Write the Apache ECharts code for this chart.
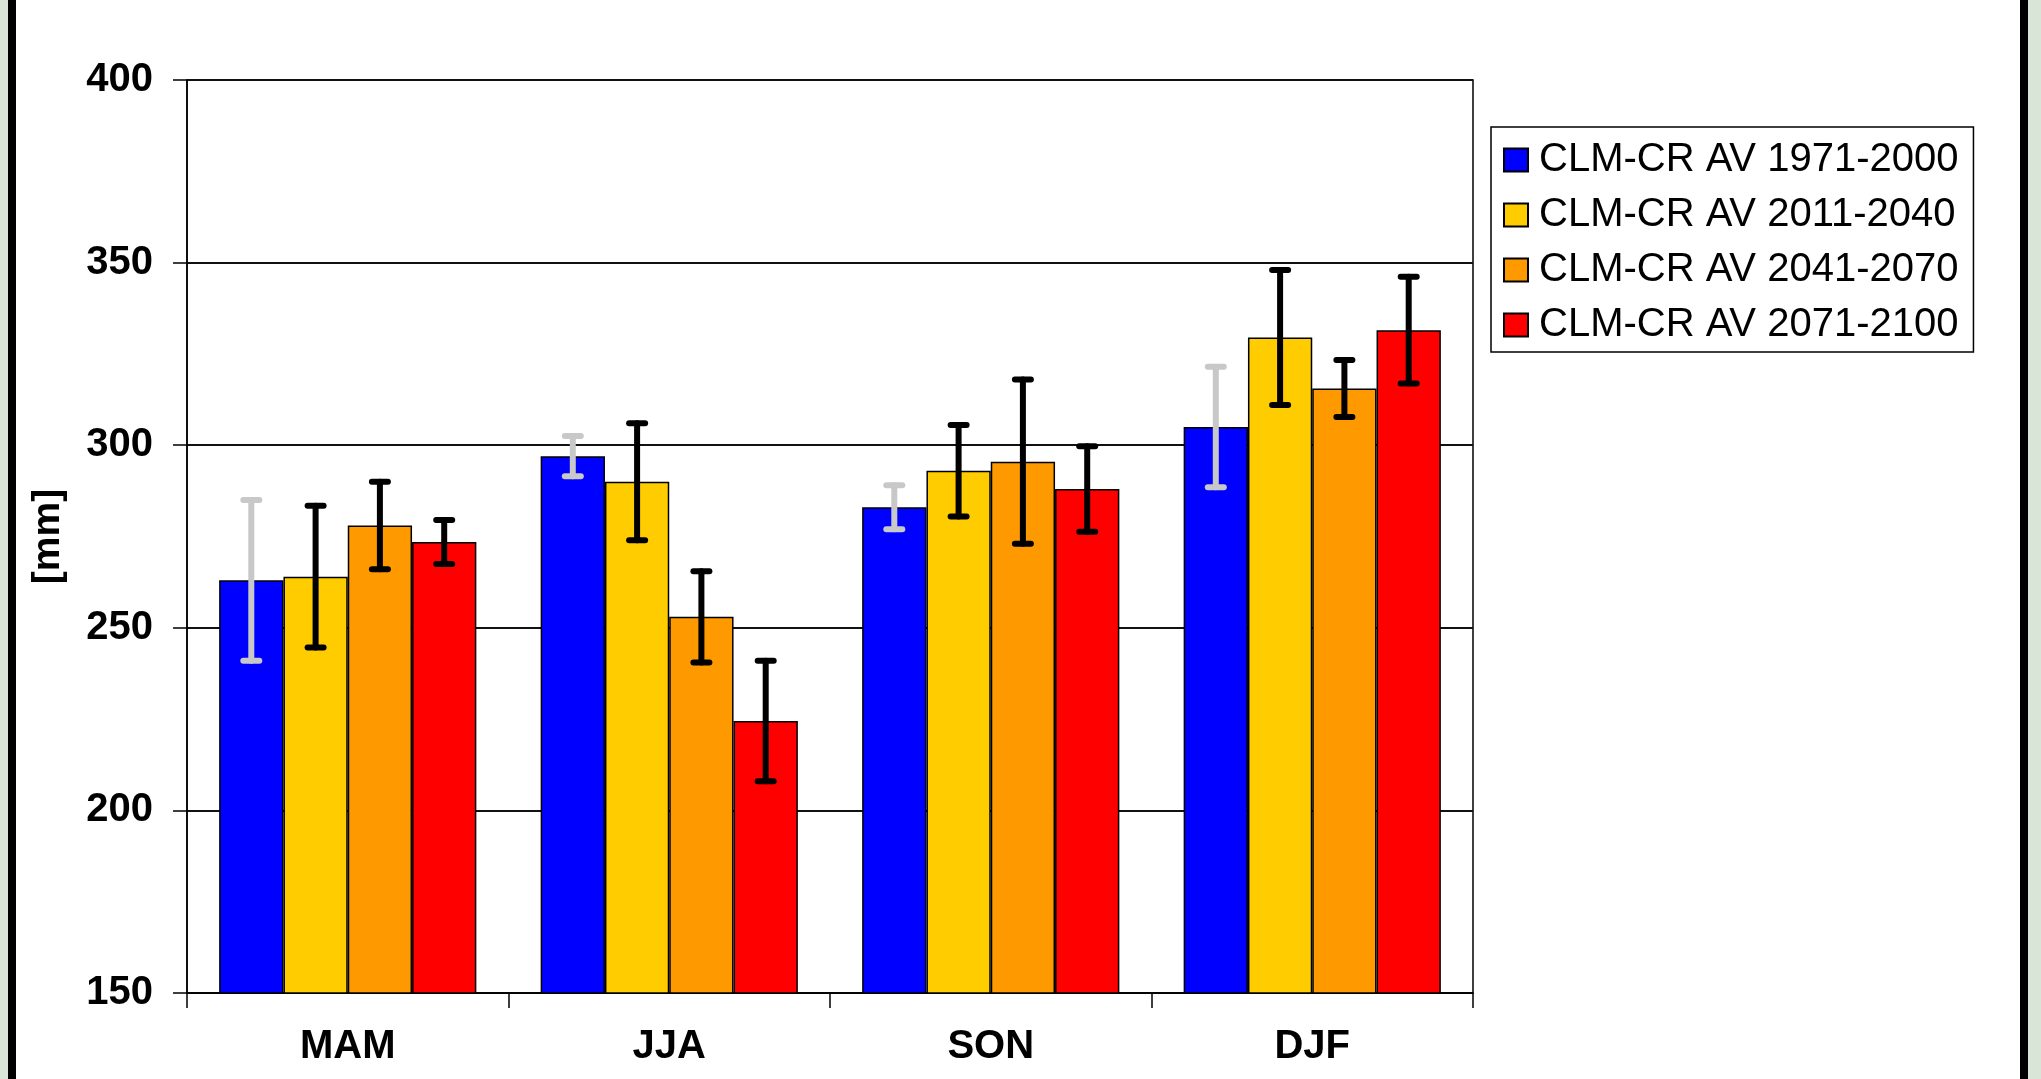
<!DOCTYPE html>
<html>
<head>
<meta charset="utf-8">
<script src="https://cdn.jsdelivr.net/npm/echarts@6/dist/echarts.min.js"></script>
<style>
html,body{margin:0;padding:0;background:#fff;}
#c{width:2041px;height:1079px;}
</style>
</head>
<body>
<div id="c"></div>
<script>
const categories = ['MAM', 'JJA', 'SON', 'DJF'];
const seriesNames = ['CLM-CR AV 1971-2000', 'CLM-CR AV 2011-2040', 'CLM-CR AV 2041-2070', 'CLM-CR AV 2071-2100'];
const v1971 = [263, 297, 283, 305];
const e1971 = [22, 5.5, 6, 16.5];
const v2011 = [264, 290, 293, 329.5];
const e2011 = [19.4, 16, 12.5, 18.5];
const v2041 = [278, 253, 295.5, 315.5];
const e2041 = [12, 12.5, 22.5, 7.8];
const v2071 = [273.5, 224.5, 288, 331.5];
const e2071 = [6, 16.5, 11.7, 14.6];
const yTicks = [150, 200, 250, 300, 350, 400];

const values = [v1971, v2011, v2041, v2071];
const errors = [e1971, e2011, e2041, e2071];
const colors = ['#0000ff', '#ffcc00', '#ff9900', '#ff0000'];
const errColors = ['#c8c8c8', '#000000', '#000000', '#000000'];
const barShare = 0.2; // 4 bars, 20% category gap, bars adjacent

const series = [];
values.forEach((v, k) => {
  series.push({
    name: seriesNames[k],
    type: 'bar',
    data: v,
    barGap: '0%',
    barCategoryGap: '20%',
    itemStyle: { color: colors[k], borderColor: '#000', borderWidth: 1.5 },
    z: 2
  });
});
values.forEach((v, k) => {
  series.push({
    name: 'err' + k,
    type: 'custom',
    z: 5,
    encode: { x: 0, y: [1, 2] },
    data: categories.map((c, i) => [i, v[i] - errors[k][i], v[i] + errors[k][i]]),
    renderItem: function (params, api) {
      const cat = api.value(0);
      const lo = api.coord([cat, api.value(1)]);
      const hi = api.coord([cat, api.value(2)]);
      const bw = api.size([1, 0])[0] * barShare;
      const x = lo[0] + (k - 1.5) * bw;
      const half = 8;
      const st = { stroke: errColors[k], lineWidth: 6, lineCap: 'round' };
      return {
        type: 'group',
        children: [
          { type: 'line', shape: { x1: x, y1: lo[1], x2: x, y2: hi[1] }, style: st },
          { type: 'line', shape: { x1: x - half, y1: lo[1], x2: x + half, y2: lo[1] }, style: st },
          { type: 'line', shape: { x1: x - half, y1: hi[1], x2: x + half, y2: hi[1] }, style: st }
        ]
      };
    }
  });
});

const chart = echarts.init(document.getElementById('c'));
chart.setOption({
  animation: false,
  backgroundColor: '#ffffff',
  textStyle: { fontFamily: 'Liberation Sans' },
  grid: {
    left: 187, right: 568, top: 80, bottom: 86,
    show: true, borderColor: '#000', borderWidth: 1.5, backgroundColor: 'transparent'
  },
  legend: {
    data: seriesNames.map(n => ({ name: n, icon: 'rect' })),
    orient: 'vertical',
    left: 1491,
    top: 127,
    padding: [13, 15, 7, 12],
    itemWidth: 24,
    itemHeight: 23,
    itemGap: 15,
    borderColor: '#000',
    borderWidth: 1.5,
    backgroundColor: '#fff',
    textStyle: { fontSize: 40, color: '#000', fontFamily: 'Liberation Sans', padding: [0, 0, 0, 6] }
  },
  xAxis: {
    type: 'category',
    data: categories,
    axisLine: { show: true, lineStyle: { color: '#000', width: 1.5 } },
    axisTick: { show: true, length: 15, lineStyle: { color: '#000', width: 1.5 } },
    axisLabel: { fontSize: 40, fontWeight: 'bold', color: '#000', margin: 34, fontFamily: 'Liberation Sans' }
  },
  yAxis: {
    type: 'value',
    min: yTicks[0],
    max: yTicks[yTicks.length - 1],
    interval: 50,
    name: '[mm]',
    nameLocation: 'middle',
    nameGap: 119,
    nameRotate: 90,
    nameTextStyle: { fontSize: 39, fontWeight: 'bold', color: '#000', fontFamily: 'Liberation Sans' },
    axisLine: { show: true, lineStyle: { color: '#000', width: 1.5 } },
    axisTick: { show: true, length: 14, lineStyle: { color: '#000', width: 1.5 } },
    axisLabel: { fontSize: 40, fontWeight: 'bold', color: '#000', margin: 34, fontFamily: 'Liberation Sans' },
    splitLine: { show: true, lineStyle: { color: '#111', width: 2 } }
  },
  graphic: [
    { type: 'rect', shape: { x: 0, y: 0, width: 8, height: 1079 }, style: { fill: '#d8e5d7' }, silent: true },
    { type: 'rect', shape: { x: 8, y: 0, width: 8, height: 1079 }, style: { fill: '#000' }, silent: true },
    { type: 'rect', shape: { x: 2020, y: 0, width: 8, height: 1079 }, style: { fill: '#000' }, silent: true },
    { type: 'rect', shape: { x: 2028, y: 0, width: 13, height: 1079 }, style: { fill: '#d8e5d7' }, silent: true }
  ],
  series: series
});
</script>
</body>
</html>
